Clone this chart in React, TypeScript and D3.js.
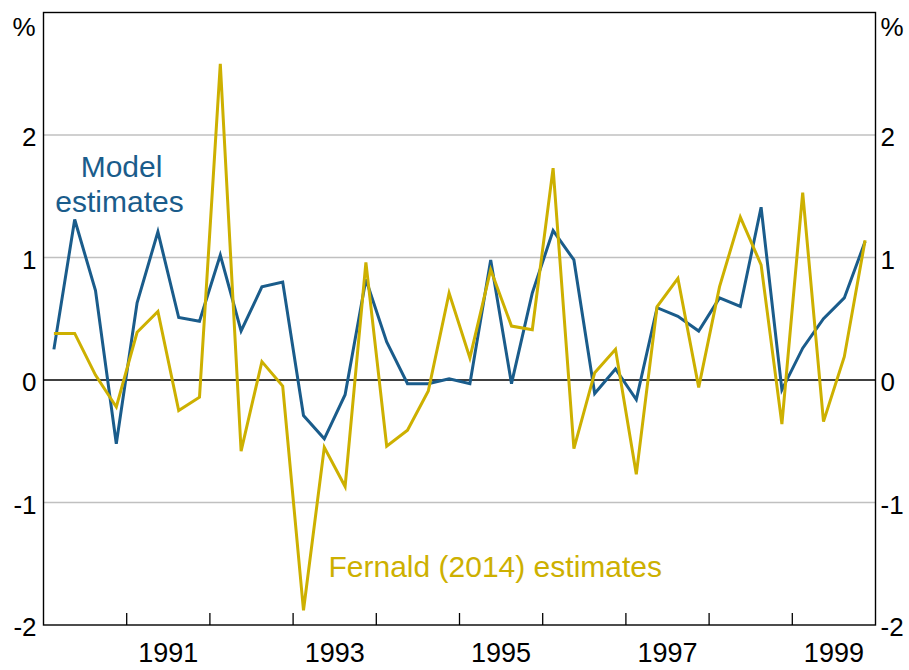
import * as d3 from "d3";
import { useRef, useEffect } from "react";

// quarterly data, 1990 Q1 to 1999 Q4
const startYear = 1990;
const modelEstimates = [
  0.25, 1.31, 0.73, -0.52, 0.63, 1.21, 0.51, 0.48,
  1.02, 0.4, 0.76, 0.8, -0.29, -0.48, -0.12, 0.82,
  0.31, -0.03, -0.03, 0.01, -0.03, 0.98, -0.03, 0.71,
  1.22, 0.98, -0.11, 0.09, -0.16, 0.59, 0.52, 0.4,
  0.67, 0.6, 1.41, -0.08, 0.26, 0.5, 0.67, 1.13,
];
const fernaldEstimates = [
  0.38, 0.38, 0.04, -0.22, 0.39, 0.56, -0.25, -0.14,
  2.58, -0.58, 0.15, -0.05, -1.88, -0.55, -0.87, 0.96,
  -0.54, -0.41, -0.09, 0.71, 0.18, 0.9, 0.44, 0.41,
  1.73, -0.56, 0.06, 0.25, -0.77, 0.6, 0.83, -0.06,
  0.76, 1.33, 0.94, -0.36, 1.53, -0.34, 0.19, 1.14,
];
const yTicks = [-2, -1, 0, 1, 2];
const yearLabels = [1991, 1993, 1995, 1997, 1999];

const blue = "#1a5c8b";
const gold = "#cdb000";
const font = "'Liberation Sans', Arial, sans-serif";

export default function App() {
  let width = 909,
    height = 670,
    margin = { left: 43.5, top: 12.5, right: 33.5, bottom: 45 };
  let innerW = width - margin.left - margin.right,
    innerH = height - margin.top - margin.bottom;

  let xScale = d3
      .scaleLinear()
      .domain([startYear, startYear + 10])
      .range([0, innerW]),
    yScale = d3.scaleLinear().domain([-2, 3]).range([innerH, 0]);

  let toPoints = (vals: number[]) =>
    vals.map((v, i) => ({ t: startYear + (i + 0.5) / 4, v }));

  let valueLine = d3
    .line<{ t: number; v: number }>()
    .x((d) => xScale(d.t))
    .y((d) => yScale(d.v));

  let years = d3.range(startYear + 1, startYear + 10);

  return (
    <svg
      width={width}
      height={height}
      style={{ position: "absolute", left: 0, top: 0, background: "#fff" }}
      fontFamily={font}
    >
      <g transform={`translate(${margin.left}, ${margin.top})`}>
        {/* gridlines */}
        {yTicks
          .filter((t) => t !== 0 && t !== -2)
          .map((t) => (
            <line
              key={t}
              x1={0}
              x2={innerW}
              y1={yScale(t)}
              y2={yScale(t)}
              stroke="#c0c0c0"
              strokeWidth={1.3}
            />
          ))}
        <line
          x1={0}
          x2={innerW}
          y1={yScale(0)}
          y2={yScale(0)}
          stroke="#000"
          strokeWidth={1.3}
        />
        {/* year ticks */}
        {years.map((y) => (
          <line
            key={y}
            x1={xScale(y)}
            x2={xScale(y)}
            y1={innerH}
            y2={innerH - 12}
            stroke="#000"
            strokeWidth={1.3}
          />
        ))}
        {/* series */}
        <path
          d={valueLine(toPoints(modelEstimates)) || ""}
          stroke={blue}
          strokeWidth={3}
          fill="none"
        />
        <path
          d={valueLine(toPoints(fernaldEstimates)) || ""}
          stroke={gold}
          strokeWidth={3}
          fill="none"
        />
        {/* frame */}
        <rect
          x={0}
          y={0}
          width={innerW}
          height={innerH}
          fill="none"
          stroke="#000"
          strokeWidth={1.4}
        />
        {/* y labels */}
        {yTicks.map((t) => (
          <g key={t}>
            <text
              x={-7}
              y={yScale(t) + 11}
              textAnchor="end"
              fontSize={26}
              fill="#000"
            >
              {t}
            </text>
            <text
              x={innerW + 5}
              y={yScale(t) + 11}
              textAnchor="start"
              fontSize={26}
              fill="#000"
            >
              {t}
            </text>
          </g>
        ))}
        <text x={-8} y={23} textAnchor="end" fontSize={26} fill="#000">
          %
        </text>
        <text x={innerW + 5} y={23} textAnchor="start" fontSize={26} fill="#000">
          %
        </text>
        {/* x labels */}
        {yearLabels.map((y) => (
          <text
            key={y}
            x={xScale(y + 0.5)}
            y={innerH + 37}
            textAnchor="middle"
            fontSize={27}
            fill="#000"
          >
            {y}
          </text>
        ))}
        {/* series labels */}
        <text x={78} y={164} textAnchor="middle" fontSize={30} fill={blue}>
          <tspan x={78}>Model</tspan>
          <tspan x={76} dy={35}>
            estimates
          </tspan>
        </text>
        <text x={285} y={564} textAnchor="start" fontSize={30} fill={gold}>
          Fernald (2014) estimates
        </text>
      </g>
    </svg>
  );
}
